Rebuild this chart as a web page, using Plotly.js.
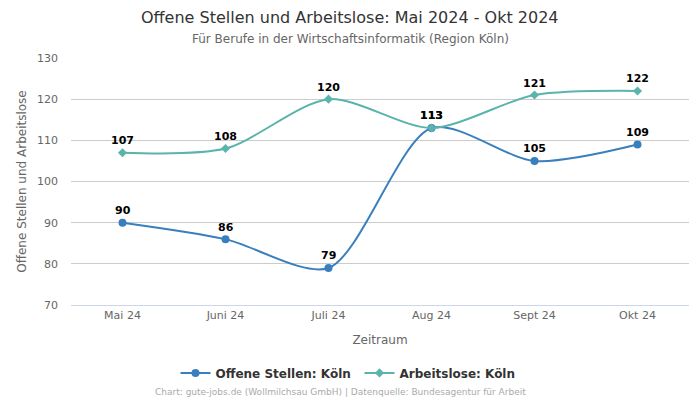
<!DOCTYPE html>
<html>
<head>
<meta charset="utf-8">
<script src="https://cdn.plot.ly/plotly-3.0.1.min.js"></script>
<style>html,body{margin:0;padding:0;background:#fff;}#chart{width:700px;height:400px;}</style>
</head>
<body>
<div id="chart"></div>
<script>
const categories = ["Mai 24", "Juni 24", "Juli 24", "Aug 24", "Sept 24", "Okt 24"];
const offeneStellen = [90, 86, 79, 113, 105, 109];
const arbeitslose = [107, 108, 120, 113, 121, 122];
const yTicks = [70, 80, 90, 100, 110, 120, 130];

const font = "DejaVu Sans, sans-serif";
const blue = "#3a7fbd";
const teal = "#5ab4ac";

const traces = [
  {
    x: categories, y: offeneStellen, name: "Offene Stellen: Köln",
    type: "scatter", mode: "lines+markers",
    line: {color: blue, width: 2, shape: "spline", smoothing: 0.8},
    marker: {color: blue, size: 8, symbol: "circle"},
    cliponaxis: false
  },
  {
    x: categories, y: arbeitslose, name: "Arbeitslose: Köln",
    type: "scatter", mode: "lines+markers",
    line: {color: teal, width: 2, shape: "spline", smoothing: 0.8},
    marker: {color: teal, size: 7, symbol: "diamond"},
    cliponaxis: false
  }
];

function labels(xs, ys) {
  return xs.map((c, i) => ({
    x: c, y: ys[i], xref: "x", yref: "y", text: String(ys[i]),
    showarrow: false, yshift: 12, yanchor: "middle", xanchor: "center",
    font: {family: font, size: 11, color: "#000", weight: "bold"}
  }));
}

// plot area: left 71, width 618, top 58, height 247
const px = (p) => (p - 71) / 618;
const pageCenterX = px(350);

const layout = {
  width: 700, height: 400,
  margin: {l: 71, r: 11, t: 58, b: 95, autoexpand: false},
  paper_bgcolor: "#fff", plot_bgcolor: "#fff",
  font: {family: font, color: "#666"},
  xaxis: {
    type: "category", range: [-0.5, 5.5],
    title: {text: "Zeitraum", font: {family: font, size: 12, color: "#666"}, standoff: 14},
    tickfont: {family: font, size: 11, color: "#666"},
    showgrid: false, showline: true, linecolor: "#ccd6eb", ticks: "", zeroline: false
  },
  yaxis: {
    range: [70, 130], tickvals: yTicks,
    title: {text: "Offene Stellen und Arbeitslose", font: {family: font, size: 12, color: "#666"}, standoff: 7},
    tickfont: {family: font, size: 11, color: "#666"},
    ticklabelstandoff: 12,
    showgrid: true, gridcolor: "#cccccc", zeroline: false, ticks: "", showline: false
  },
  legend: {
    orientation: "h", x: px(359.5), xanchor: "center", y: -0.275, yanchor: "middle",
    font: {family: font, size: 12, color: "#333", weight: "bold"},
    entrywidth: 139, entrywidthmode: "pixels"
  },
  annotations: [
    {
      text: "Offene Stellen und Arbeitslose: Mai 2024 - Okt 2024",
      xref: "paper", yref: "paper", x: pageCenterX, xanchor: "center",
      y: 1 + (58 - 17) / 247, yanchor: "middle", showarrow: false,
      font: {family: font, size: 16, color: "#333"}
    },
    {
      text: "Für Berufe in der Wirtschaftsinformatik (Region Köln)",
      xref: "paper", yref: "paper", x: pageCenterX, xanchor: "center",
      y: 1 + (58 - 39) / 247, yanchor: "middle", showarrow: false,
      font: {family: font, size: 12, color: "#666"}
    },
    {
      text: "Chart: gute-jobs.de (Wollmilchsau GmbH) | Datenquelle: Bundesagentur für Arbeit",
      xref: "paper", yref: "paper", x: px(340), xanchor: "center",
      y: -(392 - 305) / 247, yanchor: "middle", showarrow: false,
      font: {family: font, size: 9, color: "#aaa"}
    }
  ].concat(labels(categories, offeneStellen), labels(categories, arbeitslose)),
  showlegend: true
};

Plotly.newPlot("chart", traces, layout, {displayModeBar: false, staticPlot: true});
</script>
</body>
</html>
